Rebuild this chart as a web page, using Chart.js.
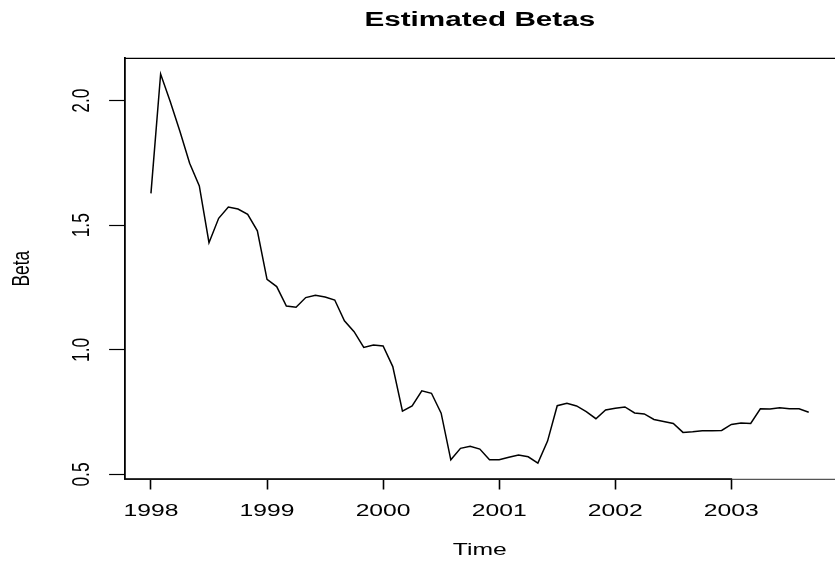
<!DOCTYPE html>
<html>
<head>
<meta charset="utf-8">
<script src="https://cdn.jsdelivr.net/npm/chart.js@4/dist/chart.umd.min.js"></script>
<style>
  html, body { margin: 0; padding: 0; background: #fff; overflow: hidden; }
  #wrap { width: 835px; height: 561px; position: relative; }
</style>
</head>
<body>
<div id="wrap"><canvas id="chart" width="835" height="561"></canvas></div>
<script>
// Monthly estimated betas, January 1998 through September 2003
const startYear = 1998;
const betas = [
  1.628, 2.107, 1.996, 1.876, 1.749, 1.658, 1.430, 1.528, 1.573, 1.565,
  1.544, 1.478, 1.283, 1.254, 1.176, 1.171, 1.210, 1.219, 1.212, 1.200,
  1.117, 1.073, 1.010, 1.020, 1.016, 0.933, 0.754, 0.775, 0.836, 0.826,
  0.746, 0.559, 0.605, 0.613, 0.602, 0.559, 0.559, 0.569, 0.578, 0.571,
  0.546, 0.634, 0.776, 0.786, 0.775, 0.752, 0.724, 0.759, 0.766, 0.771,
  0.747, 0.743, 0.721, 0.713, 0.705, 0.669, 0.672, 0.676, 0.676, 0.677,
  0.701, 0.707, 0.705, 0.764, 0.763, 0.768, 0.764, 0.764, 0.750
];
const xTicks = [1998, 1999, 2000, 2001, 2002, 2003];
const xTickLabels = ['1998', '1999', '2000', '2001', '2002', '2003'];
const yTicks = [0.5, 1.0, 1.5, 2.0];
const yTickLabels = ['0.5', '1.0', '1.5', '2.0'];
const titleText = 'Estimated Betas';
const xTitle = 'Time';
const yTitle = 'Beta';

const points = betas.map((b, i) => ({ x: startYear + i / 12, y: b }));

const FONT = '"Liberation Sans", Arial, Helvetica, sans-serif';
const LABEL_PX = 17.4;
const TITLE_PX = 20.9;
const STRETCH = 1.42;   // text is drawn horizontally widened, as in the device output

// Draws one string, widened horizontally, optionally rotated to read upward
function drawText(ctx, text, x, y, opts) {
  ctx.save();
  ctx.font = (opts.bold ? 'bold ' : '') + opts.size + 'px ' + FONT;
  ctx.fillStyle = '#000';
  ctx.textAlign = 'center';
  ctx.textBaseline = 'alphabetic';
  ctx.translate(x, y);
  ctx.scale(STRETCH, 1);
  if (opts.vertical) ctx.rotate(-Math.PI / 2);
  ctx.fillText(text, 0, 0);
  ctx.restore();
}

// Plot frame, the x axis line between its outer ticks, and all text
const framePlugin = {
  id: 'frame',
  afterDraw(chart) {
    const { ctx, chartArea, scales } = chart;
    const { left, right, top, bottom } = chartArea;
    ctx.save();
    // frame: top and bottom edges
    ctx.strokeStyle = '#000';
    ctx.lineWidth = 1.3;
    ctx.beginPath();
    ctx.moveTo(left, top);
    ctx.lineTo(right + 2, top);
    ctx.stroke();
    ctx.strokeStyle = '#555';
    ctx.lineWidth = 1.2;
    ctx.beginPath();
    ctx.moveTo(left, bottom + 0.3);
    ctx.lineTo(right + 2, bottom + 0.3);
    ctx.stroke();
    // x axis line spanning the first to the last tick
    const x0 = scales.x.getPixelForValue(xTicks[0]);
    const x1 = scales.x.getPixelForValue(xTicks[xTicks.length - 1]);
    ctx.strokeStyle = '#000';
    ctx.lineWidth = 1.6;
    ctx.beginPath();
    ctx.moveTo(left, bottom);
    ctx.lineTo(x1 + 0.8, bottom);
    ctx.stroke();
    ctx.restore();

    const cx = (left + right) / 2;
    const cy = (top + bottom) / 2;
    const capHalf = 0.358;

    drawText(ctx, titleText, cx, 19 + capHalf * TITLE_PX, { size: TITLE_PX, bold: true });

    xTicks.forEach((v, i) => {
      const x = scales.x.getPixelForValue(v);
      drawText(ctx, xTickLabels[i], x, 509.5 + capHalf * LABEL_PX, { size: LABEL_PX });
    });
    drawText(ctx, xTitle, cx, 549 + capHalf * LABEL_PX, { size: LABEL_PX });

    const yOff = capHalf * LABEL_PX * STRETCH;
    yTicks.forEach((v, i) => {
      const y = scales.y.getPixelForValue(v);
      drawText(ctx, yTickLabels[i], 80 + yOff, y, { size: LABEL_PX, vertical: true });
    });
    drawText(ctx, yTitle, 20 + yOff, cy, { size: LABEL_PX, vertical: true });
  }
};

new Chart(document.getElementById('chart'), {
  type: 'line',
  data: {
    datasets: [{
      data: points,
      borderColor: '#000',
      borderWidth: 1.5,
      pointRadius: 0,
      tension: 0,
      fill: false
    }]
  },
  options: {
    responsive: false,
    animation: false,
    events: [],
    layout: { padding: { top: 58.3, right: 0, bottom: 0, left: 0 } },
    plugins: {
      legend: { display: false },
      tooltip: { enabled: false },
      title: { display: false }
    },
    scales: {
      x: {
        type: 'linear',
        min: 1997.773,
        max: 2003.893,
        afterFit(s) { s.height = 82; },
        afterBuildTicks(s) { s.ticks = xTicks.map(v => ({ value: v })); },
        grid: {
          drawOnChartArea: false,
          drawTicks: true,
          tickLength: 10.5,
          tickWidth: 1.6,
          tickColor: '#000'
        },
        border: { display: false },
        ticks: { display: false }
      },
      y: {
        type: 'linear',
        min: 0.482,
        max: 2.170,
        afterFit(s) { s.width = 124.6; },
        afterBuildTicks(s) { s.ticks = yTicks.map(v => ({ value: v })); },
        grid: {
          drawOnChartArea: false,
          drawTicks: true,
          tickLength: 15.5,
          tickWidth: 1.2,
          tickColor: '#000'
        },
        border: { display: true, color: '#000', width: 1.8 },
        ticks: { display: false }
      }
    }
  },
  plugins: [framePlugin]
});
</script>
</body>
</html>
